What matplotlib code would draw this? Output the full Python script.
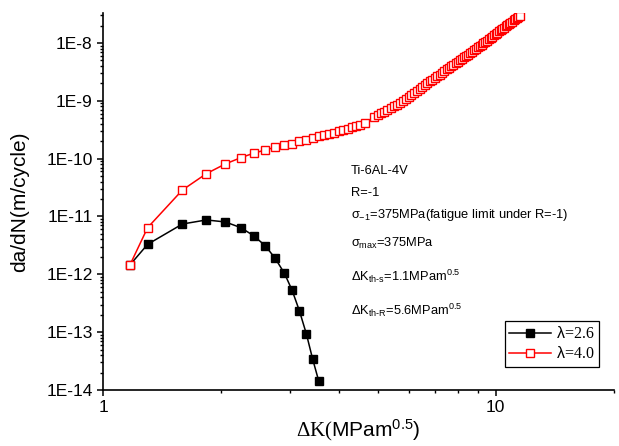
import math
import matplotlib
matplotlib.use('Agg')
import matplotlib.pyplot as plt
from matplotlib.ticker import LogLocator, FuncFormatter, NullFormatter

plt.rcParams['font.family'] = ['Liberation Sans', 'DejaVu Sans']
plt.rcParams['mathtext.fontset'] = 'custom'
plt.rcParams['mathtext.rm'] = 'Liberation Sans'
plt.rcParams['mathtext.it'] = 'Liberation Sans'
plt.rcParams['mathtext.cal'] = 'Liberation Serif'

# lambda = 2.6 (black, filled squares)
dk_26 = [1.171, 1.299, 1.593, 1.833, 2.048, 2.244, 2.417, 2.588, 2.744, 2.897,
         3.030, 3.162, 3.295, 3.419, 3.540]
rate_26 = [1.45e-12, 3.30e-12, 7.41e-12, 8.71e-12, 8.04e-12, 6.41e-12, 4.66e-12,
           3.13e-12, 1.89e-12, 1.04e-12, 5.30e-13, 2.35e-13, 9.29e-14, 3.40e-14,
           1.45e-14]

# lambda = 4.0 (red, open squares)
dk_40 = [1.171, 1.299, 1.593, 1.833, 2.048, 2.244, 2.417, 2.588, 2.744, 2.897,
         3.030, 3.162, 3.295, 3.419, 3.540, 3.649, 3.757, 3.869, 3.980, 4.086,
         4.195, 4.298, 4.400, 4.510, 4.651,
         4.9, 5.0, 5.1, 5.2, 5.3, 5.4, 5.5, 5.6, 5.7, 5.8, 5.9, 6.0, 6.1, 6.2,
         6.3, 6.4, 6.5, 6.6, 6.7, 6.8, 6.9, 7.0, 7.1, 7.2, 7.3, 7.4, 7.5, 7.6,
         7.7, 7.8, 7.9, 8.0, 8.1, 8.2, 8.3, 8.4, 8.5, 8.6, 8.7, 8.8, 8.9, 9.0,
         9.1, 9.2, 9.3, 9.4, 9.5, 9.6, 9.7, 9.8, 9.9, 10.0, 10.1, 10.2, 10.3,
         10.4, 10.5, 10.6, 10.7, 10.8, 10.9, 11.0, 11.1, 11.2, 11.3, 11.4, 11.5]
rate_40 = [1.45e-12, 6.41e-12, 2.87e-11, 5.50e-11, 8.09e-11, 1.04e-10, 1.24e-10,
           1.41e-10, 1.57e-10, 1.70e-10, 1.82e-10, 1.98e-10, 2.13e-10, 2.27e-10,
           2.42e-10, 2.55e-10, 2.69e-10, 2.82e-10, 2.95e-10, 3.12e-10, 3.29e-10,
           3.46e-10, 3.66e-10, 3.85e-10, 4.19e-10,
           5.20e-10, 5.61e-10, 6.04e-10, 6.49e-10, 6.97e-10, 7.48e-10, 8.02e-10,
           8.63e-10, 9.31e-10, 1.00e-9, 1.09e-9, 1.18e-9, 1.27e-9, 1.37e-9,
           1.49e-9, 1.61e-9, 1.73e-9, 1.86e-9, 2.00e-9, 2.16e-9, 2.31e-9, 2.48e-9,
           2.66e-9, 2.84e-9, 3.04e-9, 3.25e-9, 3.48e-9, 3.70e-9, 3.94e-9, 4.19e-9,
           4.45e-9, 4.72e-9, 5.01e-9, 5.31e-9, 5.62e-9, 5.96e-9, 6.30e-9, 6.68e-9,
           7.08e-9, 7.50e-9, 7.94e-9, 8.39e-9, 8.87e-9, 9.40e-9, 9.91e-9, 1.05e-8,
           1.10e-8, 1.16e-8, 1.23e-8, 1.29e-8, 1.36e-8, 1.44e-8, 1.51e-8, 1.59e-8,
           1.67e-8, 1.76e-8, 1.85e-8, 1.94e-8, 2.04e-8, 2.13e-8, 2.24e-8, 2.34e-8,
           2.45e-8, 2.58e-8, 2.70e-8, 2.82e-8, 2.95e-8]

notes = [
    'Ti-6AL-4V',
    'R=-1',
    r'$\sigma_{-1}$=375MPa(fatigue limit under R=-1)',
    r'$\sigma_{max}$=375MPa',
    r'$\Delta K_{th\text{-}s}$=1.1MPam$^{0.5}$',
    r'$\Delta K_{th\text{-}R}$=5.6MPam$^{0.5}$',
]
note_y = [0.573, 0.515, 0.455, 0.380, 0.290, 0.199]

fig = plt.figure(figsize=(6.19, 4.46), dpi=100)
ax = fig.add_axes([0.1664, 0.1256, 0.8255, 0.8453])

ax.plot(dk_26, rate_26, color='black', lw=1.1, marker='s', ms=5.5,
        mfc='black', mec='black', label=r'$\lambda$=2.6')
ax.plot(dk_40, rate_40, color='red', lw=1.1, marker='s', ms=5.5,
        mfc='white', mec='red', mew=1.0, label=r'$\lambda$=4.0')

ax.set_xscale('log')
ax.set_yscale('log')
ax.set_xlim(1, 20)
ax.set_ylim(1e-14, 3.3e-8)

# only left/bottom axis lines like the original
ax.spines['top'].set_visible(False)
ax.spines['right'].set_visible(False)
for s in ['left', 'bottom']:
    ax.spines[s].set_linewidth(1.2)

ax.yaxis.set_major_locator(LogLocator(base=10, numticks=20))
ax.yaxis.set_minor_locator(LogLocator(base=10, subs=range(2, 10), numticks=20))
ax.yaxis.set_major_formatter(FuncFormatter(lambda v, p: '1E%d' % round(math.log10(v))))
ax.yaxis.set_minor_formatter(NullFormatter())
ax.xaxis.set_major_locator(LogLocator(base=10, numticks=10))
ax.xaxis.set_minor_locator(LogLocator(base=10, subs=range(2, 10), numticks=10))
ax.xaxis.set_major_formatter(FuncFormatter(lambda v, p: '%g' % v))
ax.xaxis.set_minor_formatter(NullFormatter())
ax.tick_params(which='major', direction='out', length=4.5, width=1.1,
               labelsize=12.5, pad=3)
ax.tick_params(which='minor', direction='out', length=2.5, width=1.0)

ax.set_ylabel('da/dN(m/cycle)', fontsize=15)
ax.yaxis.set_label_coords(-0.145, 0.5)
ax.set_xlabel(r'$\mathcal{\Delta K(}$MPam$^{0.5}$)', fontsize=15)
ax.xaxis.set_label_coords(0.5, -0.072)

for t, y in zip(notes, note_y):
    ax.text(0.485, y, t, transform=ax.transAxes, fontsize=9.3, va='baseline')

leg = ax.legend(loc='lower right', bbox_to_anchor=(0.9706, 0.061),
                borderaxespad=0, fancybox=False, framealpha=1,
                edgecolor='black', handlelength=2.6, borderpad=0.3,
                labelspacing=0.25, handletextpad=0.3,
                prop={'family': 'Liberation Serif', 'size': 11.5})
leg.get_frame().set_linewidth(0.9)

fig.savefig('out.png', dpi=100)
